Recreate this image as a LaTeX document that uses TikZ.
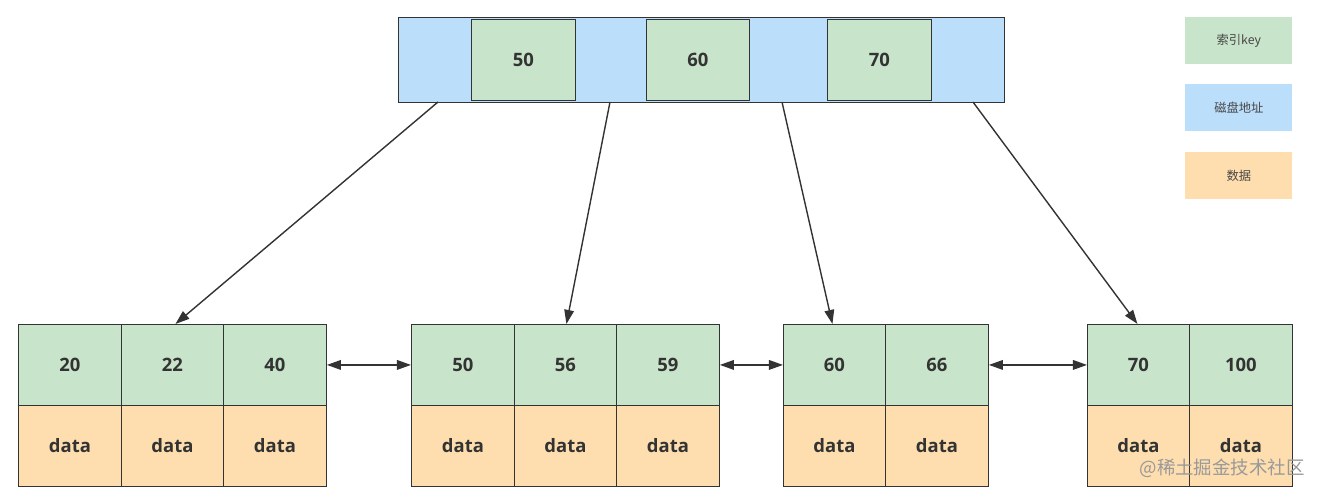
\documentclass[tikz,border=0pt]{standalone}
\usepackage{fontspec}
\setmainfont{Open Sans}
\newfontfamily\cjk{Noto Sans CJK SC}
\usetikzlibrary{arrows.meta}
\definecolor{keyg}{RGB}{200,228,202}
\definecolor{diskb}{RGB}{187,222,251}
\definecolor{datao}{RGB}{254,222,174}
\definecolor{edge}{RGB}{51,51,51}
\begin{document}
\begin{tikzpicture}[x=0.02cm,y=-0.02cm,
  cell/.style={draw=edge,line width=0.5pt,font=\bfseries\fontsize{10.5}{12}\selectfont,text=edge},
  keycell/.style={cell,fill=keyg},
  datacell/.style={cell,fill=datao},
  legend/.style={fill=#1,font=\cjk\fontsize{7}{8}\selectfont,text=edge!90},
  conn/.style={draw=edge,line width=0.8pt,-{Triangle[length=8pt,width=5.5pt]}},
  dconn/.style={draw=edge,line width=0.8pt,{Triangle[length=8pt,width=5.5pt]}-{Triangle[length=8pt,width=5.5pt]}}]
\useasboundingbox (0,0) rectangle (1320,496);
% root
\node[draw=edge,fill=diskb,line width=0.5pt,minimum width=606*0.02cm,minimum height=85*0.02cm,anchor=north west,inner sep=0pt] (root) at (398,17) {};
\coordinate (r0) at (438,102);
\coordinate (r1) at (610,102);
\coordinate (r2) at (782,102);
\coordinate (r3) at (973,102);
\node[keycell,minimum width=104*0.02cm,minimum height=81*0.02cm,anchor=north west] (k50) at (471,19) {50};
\node[keycell,minimum width=103*0.02cm,minimum height=81*0.02cm,anchor=north west] (k60) at (646,19) {60};
\node[keycell,minimum width=104*0.02cm,minimum height=81*0.02cm,anchor=north west] (k70) at (827,19) {70};
% leaves helper
\newcommand{\leafcell}[6]{%
  \node[keycell,minimum width=#3*0.02cm,minimum height=81*0.02cm,anchor=north west,inner sep=0pt] (#1) at (#2,324) {#4};
  \node[datacell,minimum width=#3*0.02cm,minimum height=81*0.02cm,anchor=north west,inner sep=0pt] (#5) at (#2,405) {#6};}
\leafcell{a1}{18}{103}{20}{d1}{data}
\leafcell{a2}{121}{102}{22}{d2}{data}
\leafcell{a3}{223}{103}{40}{d3}{data}
\leafcell{b1}{411}{103}{50}{e1}{data}
\leafcell{b2}{514}{102}{56}{e2}{data}
\leafcell{b3}{616}{103}{59}{e3}{data}
\leafcell{c1}{783}{102}{60}{f1}{data}
\leafcell{c2}{885}{103}{66}{f2}{data}
\leafcell{g1}{1087}{102}{70}{h1}{data}
\leafcell{g2}{1189}{103}{100}{h2}{data}
% connectors
\draw[conn] (r0) -- ([xshift=3*0.02cm]a2.north);
\draw[conn] (r1) -- ([xshift=1*0.02cm]b2.north);
\draw[conn] (r2) -- ([xshift=-2*0.02cm]c1.north);
\draw[conn] (r3) -- ([xshift=-1*0.02cm]g1.north);
\draw[dconn] (a3.east) -- (b1.west);
\draw[dconn] (b3.east) -- (c1.west);
\draw[dconn] (c2.east) -- (g1.west);
% legend
\node[legend=keyg,minimum width=107*0.02cm,minimum height=47*0.02cm,anchor=north west] (l1) at (1185,17) {索引key};
\node[legend=diskb,minimum width=107*0.02cm,minimum height=47*0.02cm,anchor=north west] (l2) at (1185,84) {磁盘地址};
\node[legend=datao,minimum width=107*0.02cm,minimum height=47*0.02cm,anchor=north west] (l3) at (1185,152) {数据};
% watermark
\node[font=\cjk\fontsize{10.5}{12}\selectfont,text=black!40,anchor=east,inner sep=0pt] (wm) at (1305,468) {@稀土掘金技术社区};
\end{tikzpicture}
\end{document}
